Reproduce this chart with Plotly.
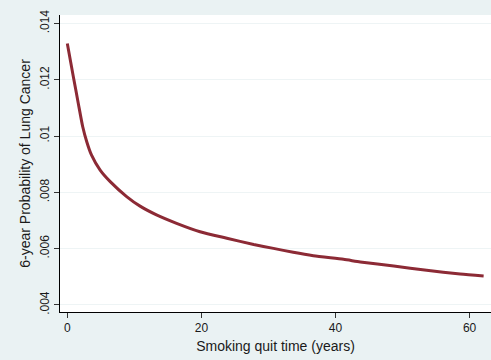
import plotly.graph_objects as go

years = [0, 0.9, 1.64, 2.3, 2.9, 3.6, 4.9, 6.4, 8.85, 10.85, 13.3, 16.3, 19.8, 23.8,
         27.8, 30.75, 33.7, 36.7, 41.2, 43.7, 48.7, 53.6, 58.6, 62.1]
prob = [0.01329, 0.01211, 0.01116, 0.01033, 0.00980, 0.00933, 0.00879, 0.00838,
        0.00785, 0.00751, 0.00720, 0.00690, 0.00660, 0.00637, 0.00615, 0.00601,
        0.00587, 0.00575, 0.00562, 0.00553, 0.00538, 0.00523, 0.00510, 0.00503]

x_ticks = [0, 20, 40, 60]
y_ticks = [0.004, 0.006, 0.008, 0.010, 0.012, 0.014]
y_ticktext = [".004", ".006", ".008", ".01", ".012", ".014"]

fig = go.Figure()
fig.add_trace(go.Scatter(x=years, y=prob, mode="lines",
                         line=dict(color="#8c2a35", width=3, shape="spline", smoothing=0.6),
                         showlegend=False, hoverinfo="skip"))

fig.update_layout(
    width=491, height=360,
    margin=dict(l=60, r=0, t=15, b=48),
    paper_bgcolor="#eaf2f3",
    plot_bgcolor="#ffffff",
    font=dict(family="Liberation Sans, Arial, sans-serif", size=12, color="#1a1a1a"),
    xaxis=dict(range=[-1.09, 63.2], tickvals=x_ticks, showgrid=False, zeroline=False,
               showline=True, linecolor="#000000", linewidth=1,
               ticks="outside", ticklen=5, tickcolor="#333333",
               title=dict(text="Smoking quit time (years)", standoff=6)),
    yaxis=dict(range=[0.00375, 0.0143], tickvals=y_ticks, ticktext=y_ticktext,
               tickangle=-90, showgrid=True, gridcolor="#eef4f5", gridwidth=1,
               zeroline=False, showline=True, linecolor="#000000", linewidth=1,
               ticks="outside", ticklen=5, tickcolor="#333333",
               title=dict(text="6-year Probability of Lung Cancer", standoff=4)),
)

fig.write_html("out.html", config={"displayModeBar": False},
               post_script="document.body.style.margin='0';document.body.style.overflow='hidden';")
